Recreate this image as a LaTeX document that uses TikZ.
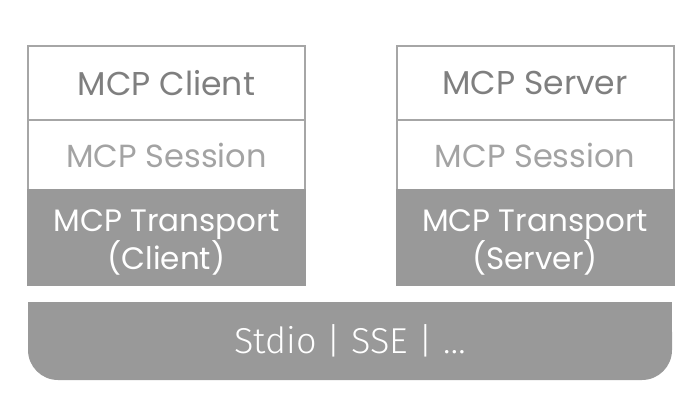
\documentclass[tikz,border=0pt]{standalone}
\usepackage{fontspec}
\setmainfont{Poppins}
\newfontfamily\barfont{Fira Sans}[UprightFont=* Light]
\definecolor{linegray}{HTML}{A6A6A6}
\definecolor{fillgray}{HTML}{999999}
\definecolor{textdark}{HTML}{7F7F7F}
\definecolor{textlight}{HTML}{A3A3A3}
\tikzset{
  layer/.style={draw=linegray, line width=2pt, fill=white, minimum width=277pt, inner sep=0pt, font=\fontsize{33}{36}\selectfont},
  toplayer/.style={layer, minimum height=74pt, text=textdark},
  midlayer/.style={layer, minimum height=70pt, text=textlight, font=\fontsize{32}{36}\selectfont},
  translayer/.style={layer, draw=fillgray, fill=fillgray, minimum height=95pt, text=white, font=\fontsize{31}{36}\selectfont}
}
\begin{document}
\begin{tikzpicture}[x=1pt, y=1pt]
  \useasboundingbox (0,0) rectangle (698,402);
  % client stack
  \draw (166.5,319) node[toplayer] (client) {MCP Client};
  \draw (166.5,247) node[midlayer] (csession) {MCP Session};
  \draw (166.5,164.5) node[translayer] (ctransport) {\raisebox{-11pt}[0pt][0pt]{\parbox{277pt}{\centering MCP Transport\\(Client)}}};
  % server stack
  \draw (535,319) node[toplayer] (server) {MCP Server};
  \draw (535,247) node[midlayer] (ssession) {MCP Session};
  \draw (535,164.5) node[translayer] (stransport) {\raisebox{-11pt}[0pt][0pt]{\parbox{277pt}{\centering MCP Transport\\(Server)}}};
  % transport bar
  \fill[fillgray, rounded corners=30pt] (28,22) rectangle (672,100);
  \fill[fillgray] (28,60) rectangle (672,100);
  \draw (350,61) node[text=white, font=\barfont\fontsize{36}{40}\selectfont] (bar) {Stdio | SSE | \ldots};
\end{tikzpicture}
\end{document}
